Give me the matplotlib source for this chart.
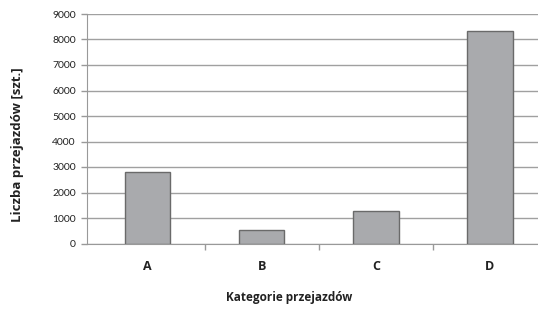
import matplotlib
matplotlib.use("Agg")
import matplotlib.pyplot as plt
import numpy as np

categories = ['A', 'B', 'C', 'D']
counts = [2800, 530, 1270, 8330]
y_ticks = [0, 1000, 2000, 3000, 4000, 5000, 6000, 7000, 8000, 9000]

plt.rcParams['font.family'] = ['Lato', 'DejaVu Sans']
bold_font = ['Open Sans', 'DejaVu Sans']

W, H = 538, 310
fig = plt.figure(figsize=(W / 100, H / 100), dpi=100)
# plot area in pixels: left 87, right 547 (cut by figure edge), top 14, bottom 243.5
ax = fig.add_axes([87 / W, (H - 243.5) / H, (547 - 87) / W, (243.5 - 14) / H])

x = np.arange(len(categories))
ax.bar(x, counts, width=0.4, color='#a9aaad', edgecolor='#6a6a6a', linewidth=1.0, zorder=3)

ax.set_xlim(-0.53, 3.5)
ax.set_ylim(0, 9000)
ax.set_yticks(y_ticks)
ax.set_yticklabels([str(v) for v in y_ticks], fontsize=7.5, color='#222222')

# category boundaries carry the tick marks, labels sit in the middle
ax.set_xticks([0.5, 1.5, 2.5], minor=False)
ax.set_xticklabels([])
ax.set_xticks(x, minor=True)
ax.set_xticklabels(categories, minor=True, fontsize=9, fontweight='bold',
                   family=bold_font, color='#222222')
ax.tick_params(axis='x', which='major', length=4, color='#999999', width=1)
ax.tick_params(axis='x', which='minor', length=0, pad=12)
ax.tick_params(axis='y', length=4, color='#999999', width=1, pad=4)

ax.grid(axis='y', color='#a0a0a0', linewidth=1.0, zorder=0)
for s in ['top', 'right']:
    ax.spines[s].set_visible(False)
ax.spines['left'].set_color('#999999')
ax.spines['bottom'].set_color('#999999')

fig.text(289 / W, 1 - 298 / H, 'Kategorie przejazdów', ha='center', va='center',
         fontsize=8.5, fontweight='bold', family=bold_font, color='#222222')
fig.text(18 / W, 1 - 145 / H, 'Liczba przejazdów [szt.]', ha='center', va='center',
         rotation=90, fontsize=9.5, fontweight='bold', family=bold_font, color='#222222')

fig.savefig('out.png', dpi=100)
